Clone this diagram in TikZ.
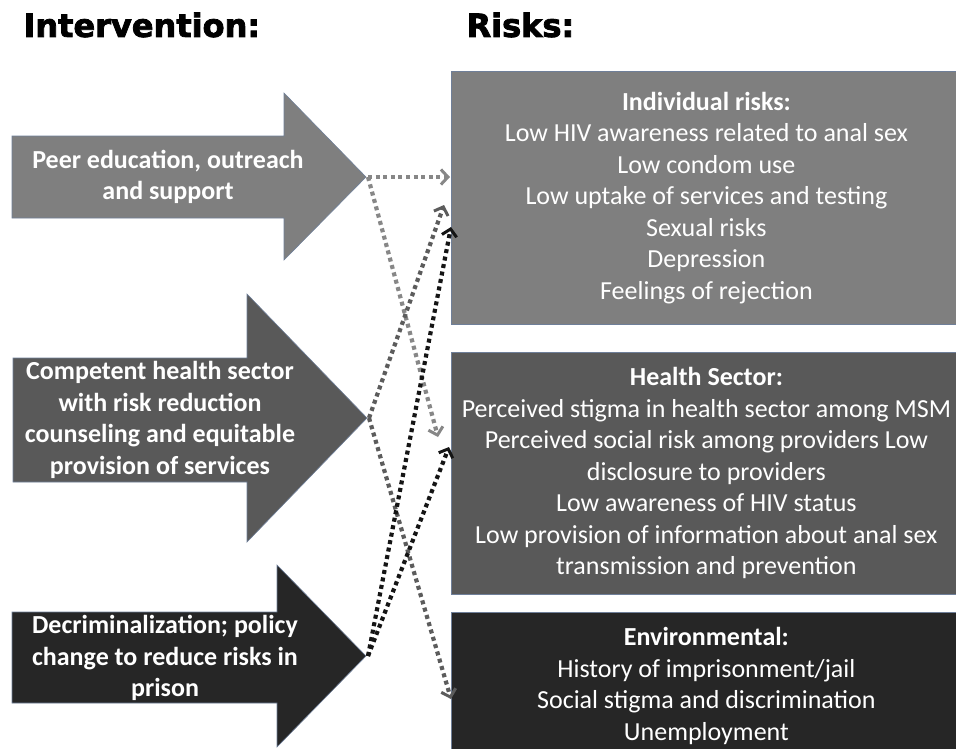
\documentclass[tikz,border=0pt]{standalone}
\usepackage{fontspec}
\setmainfont{Carlito}
\newfontfamily\headfont[FakeBold=2.5]{DejaVu Sans Bold}
\usetikzlibrary{arrows.meta}
\definecolor{lightfill}{HTML}{7F7F7F}
\definecolor{midfill}{HTML}{595959}
\definecolor{darkfill}{HTML}{262626}
\definecolor{edgeblue}{HTML}{6F7F99}
\definecolor{lightdot}{HTML}{878787}
\definecolor{middot}{HTML}{5C5C5C}
\definecolor{darkdot}{HTML}{151515}

\tikzset{
  heading/.style={font=\headfont\fontsize{32}{36}\selectfont, anchor=west},
  armtext/.style={text=white, align=center, font=\bfseries\fontsize{26}{31.5}\selectfont},
  riskbox/.style={draw=edgeblue, line width=0.8pt, text=white, align=center,
    minimum width=510pt, anchor=north west, font=\fontsize{26}{31.5}\selectfont},
  link/.style={line width=4.2pt, dash pattern=on 4pt off 3.6pt,
    -{Straight Barb[length=7pt, width=15pt, line width=3pt]}}
}

\begin{document}
\begin{tikzpicture}[x=1pt, y=-1pt]
  \useasboundingbox (0,0) rectangle (956,748);

  % column titles
  \node[heading] (intTitle) at (20,25) {Intervention:};
  \node[heading] (riskTitle) at (463,25) {Risks:};

  % intervention arrows
  \fill[lightfill, draw=edgeblue, line width=0.6pt] (12,136) -- (284,136) -- (284,93) -- (366,177)
    -- (284,260) -- (284,218) -- (12,218) -- cycle;
  \fill[midfill, draw=edgeblue, line width=0.6pt] (13,358) -- (247,358) -- (247,294) -- (367,418)
    -- (247,542) -- (247,482) -- (13,482) -- cycle;
  \fill[darkfill, draw=edgeblue, line width=0.6pt] (12,612) -- (277,612) -- (277,565) -- (366,656)
    -- (277,747) -- (277,703) -- (12,703) -- cycle;
  \coordinate (peerTip) at (368,177);
  \coordinate (healthTip) at (369,418);
  \coordinate (policyTip) at (368,656);

  \node[armtext] (peer) at (168,177) {Peer education, outreach\\and support};
  \node[armtext] (health) at (160,420) {Competent health sector\\with risk reduction\\counseling and equitable\\provision of services};
  \node[armtext] (policy) at (165,658) {Decriminalization; policy\\change to reduce risks in\\prison};

  % risk boxes
  \node[riskbox, fill=lightfill, minimum height=253pt] (indiv) at (451,71)
    {\textbf{Individual risks:}\\Low HIV awareness related to anal sex\\Low condom use\\Low uptake of services and testing\\Sexual risks\\Depression\\Feelings of rejection};
  \node[riskbox, fill=midfill, minimum height=242pt] (sector) at (451,352)
    {\textbf{Health Sector:}\\Perceived stigma in health sector among MSM\\Perceived social risk among providers Low\\disclosure to providers\\Low awareness of HIV status\\Low provision of information about anal sex\\transmission and prevention};
  \node[riskbox, fill=darkfill, minimum height=147pt] (env) at (451,612)
    {\textbf{Environmental:}\\History of imprisonment/jail\\Social stigma and discrimination\\Unemployment};

  % landing points on the boxes
  \coordinate (indivA) at (450,177);
  \coordinate (indivB) at (444,205);
  \coordinate (indivC) at (451,227);
  \coordinate (sectorA) at (438,437);
  \coordinate (sectorB) at (449,447);
  \coordinate (envA) at (451,699);

  % dotted links
  \draw[link, lightdot] (peerTip) -- (indivA);
  \draw[link, lightdot] (peerTip) -- (sectorA);
  \draw[link, middot] (healthTip) -- (indivB);
  \draw[link, middot] (healthTip) -- (envA);
  \draw[link, darkdot] (policyTip) -- (indivC);
  \draw[link, darkdot] (policyTip) -- (sectorB);
\end{tikzpicture}
\end{document}
